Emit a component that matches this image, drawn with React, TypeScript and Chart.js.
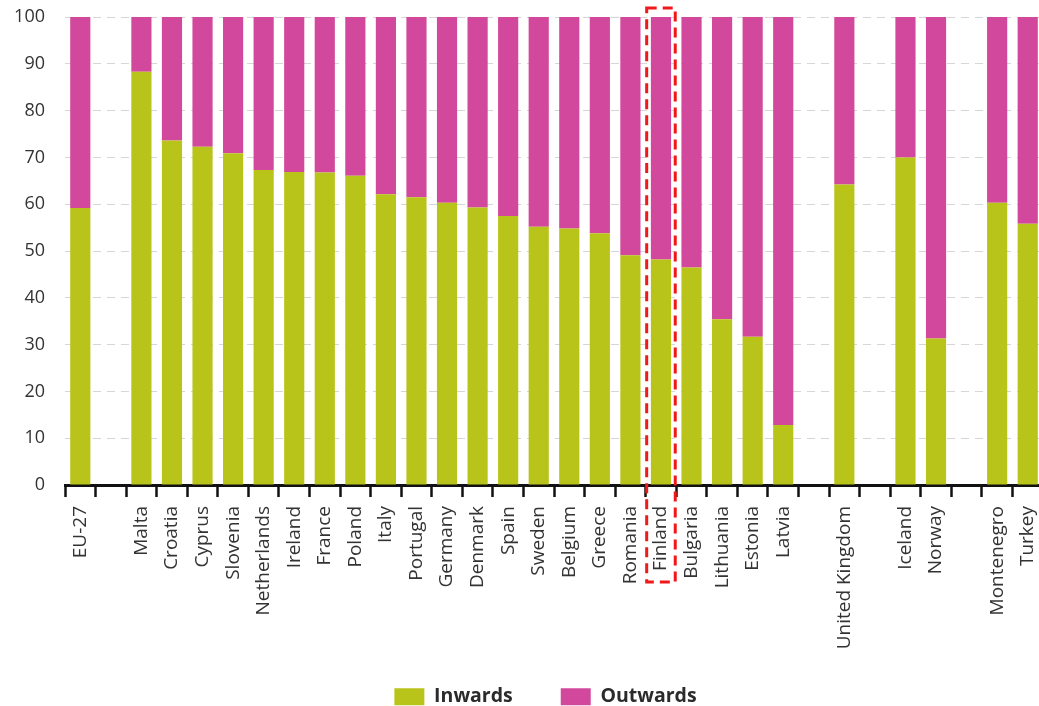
import { useEffect, useRef } from "react";
import { Chart, registerables } from "chart.js";

Chart.register(...registerables);

// Country labels; empty strings leave visual gaps between country groups.
const categories: string[] = [
  "EU-27", "", "Malta", "Croatia", "Cyprus", "Slovenia", "Netherlands", "Ireland",
  "France", "Poland", "Italy", "Portugal", "Germany", "Denmark", "Spain", "Sweden",
  "Belgium", "Greece", "Romania", "Finland", "Bulgaria", "Lithuania", "Estonia", "Latvia",
  "", "United Kingdom", "", "Iceland", "Norway", "", "Montenegro", "Turkey",
];

// Share of inward mobility (%)
const inwards: (number | null)[] = [
  59.2, null, 88.3, 73.6, 72.3, 70.9, 67.3, 66.9,
  66.8, 66.1, 62.1, 61.5, 60.3, 59.3, 57.5, 55.2,
  54.8, 53.8, 49.1, 48.2, 46.5, 35.4, 31.7, 12.8,
  null, 64.2, null, 70.0, 31.3, null, 60.3, 55.8,
];

// Share of outward mobility (%)
const outwards: (number | null)[] = [
  40.8, null, 11.7, 26.4, 27.7, 29.1, 32.7, 33.1,
  33.2, 33.9, 37.9, 38.5, 39.7, 40.7, 42.5, 44.8,
  45.2, 46.2, 50.9, 51.8, 53.5, 64.6, 68.3, 87.2,
  null, 35.8, null, 30.0, 68.7, null, 39.7, 44.2,
];

const yTicks: number[] = [0, 10, 20, 30, 40, 50, 60, 70, 80, 90, 100];

const highlighted = "Finland";

const GREEN = "#b9c41b";
const MAGENTA = "#d2489d";
const FONT = "'Open Sans', sans-serif";

const CANVAS_W = 1043;
const CANVAS_H = 706;

// Dashed red frame around the highlighted country's bar and label.
const highlightPlugin = {
  id: "highlightBox",
  afterDraw(chart: any) {
    const idx = categories.indexOf(highlighted);
    if (idx < 0) return;
    const x = chart.scales.x;
    const step = x.getPixelForValue(1) - x.getPixelForValue(0);
    const cx = x.getPixelForValue(idx);
    const { top, bottom } = chart.chartArea;
    const ctx = chart.ctx;
    ctx.save();
    ctx.strokeStyle = "#f01818";
    ctx.lineWidth = 3;
    ctx.setLineDash([10, 6]);
    ctx.strokeRect(cx - step / 2 + 1, top - 9, step - 2, bottom - top + 97 + 9);
    ctx.restore();
  },
};

// Place the legend row near the foot of the canvas, a little left of the plot centre.
const legendPlacement = {
  id: "legendPlacement",
  afterLayout(chart: any) {
    const lg = chart.legend;
    if (!lg) return;
    lg.top = 639;
    lg.bottom = CANVAS_H;
    lg.left -= 17;
  },
};

export default function App() {
  const canvasRef = useRef<HTMLCanvasElement | null>(null);

  useEffect(() => {
    if (!canvasRef.current) return;
    const chart = new Chart(canvasRef.current, {
      type: "bar",
      data: {
        labels: categories,
        datasets: [
          {
            label: "Inwards",
            data: inwards,
            backgroundColor: GREEN,
            borderWidth: 0,
          },
          {
            label: "Outwards",
            data: outwards,
            backgroundColor: MAGENTA,
            borderWidth: 0,
          },
        ],
      },
      options: {
        responsive: false,
        animation: false,
        datasets: {
          bar: { barPercentage: 0.66, categoryPercentage: 1 },
        },
        layout: { padding: { top: 17, right: 0, left: 0, bottom: 0 } },
        plugins: {
          tooltip: { enabled: false },
          legend: {
            position: "bottom",
            fullSize: false,
            maxHeight: 30,
            labels: {
              boxWidth: 30,
              boxHeight: 17,
              padding: 48,
              color: "#2b2b2b",
              font: { family: FONT, size: 19.5, weight: "bold" },
            },
          },
        },
        scales: {
          x: {
            stacked: true,
            offset: true,
            border: { display: true, color: "#111", width: 3 },
            grid: {
              display: true,
              drawOnChartArea: false,
              drawTicks: true,
              tickLength: 12,
              tickWidth: 2.5,
              tickColor: "#111",
              offset: true,
            },
            ticks: {
              autoSkip: false,
              maxRotation: 90,
              minRotation: 90,
              padding: 9,
              color: "#333",
              font: { family: FONT, size: 19 },
            },
            afterFit(scale: any) {
              scale.height = 191;
              scale.paddingLeft = 0;
              scale.paddingRight = 0;
            },
          },
          y: {
            stacked: true,
            min: 0,
            max: 100,
            afterBuildTicks(scale: any) {
              scale.ticks = yTicks.map((v) => ({ value: v }));
            },
            border: { display: false, dash: [8, 6] },
            grid: {
              color: "#d6d6d6",
              lineWidth: 1,
              drawTicks: false,
            },
            ticks: {
              padding: 20,
              color: "#333",
              font: { family: FONT, size: 18 },
            },
            afterFit(scale: any) {
              scale.width = 65;
              scale.paddingTop = 0;
              scale.paddingBottom = 0;
            },
          },
        },
      },
      plugins: [highlightPlugin, legendPlacement],
    });
    return () => chart.destroy();
  }, []);

  return (
    <div
      style={{
        position: "absolute",
        left: 0,
        top: 0,
        width: 1039,
        height: CANVAS_H,
        overflow: "hidden",
        background: "#fff",
      }}
    >
      <canvas ref={canvasRef} width={CANVAS_W} height={CANVAS_H} />
    </div>
  );
}
